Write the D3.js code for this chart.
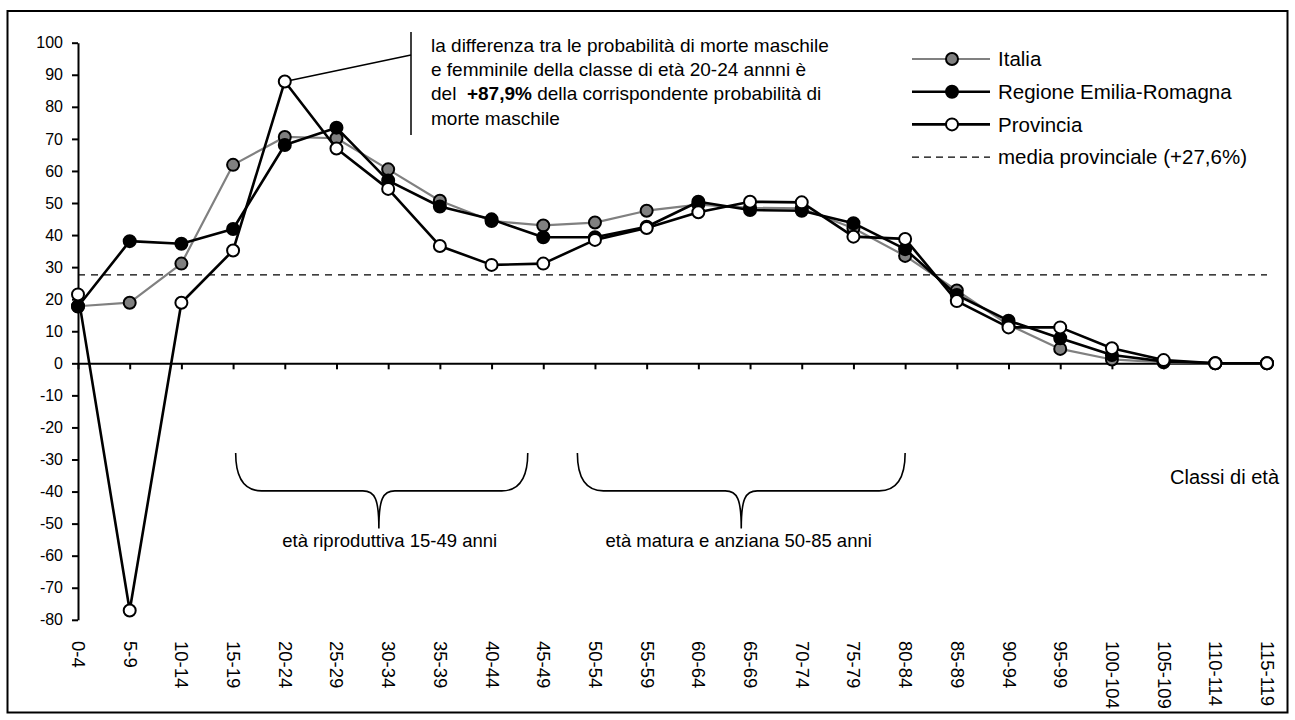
<!DOCTYPE html>
<html>
<head>
<meta charset="utf-8">
<script src="https://cdn.jsdelivr.net/npm/d3@7"></script>
<style>
  body { margin: 0; background: #fff; }
  svg { font-family: "Liberation Sans", Arial, sans-serif; }
  .axis path, .axis line { stroke: #000; stroke-width: 2; }
  .axis text { fill: #000; }
</style>
</head>
<body>
<svg width="1295" height="720"></svg>
<script>
// classi di età
var classi = ["0-4","5-9","10-14","15-19","20-24","25-29","30-34","35-39","40-44","45-49",
  "50-54","55-59","60-64","65-69","70-74","75-79","80-84","85-89","90-94","95-99",
  "100-104","105-109","110-114","115-119"];

var italia = [17.8, 18.9, 31.1, 61.9, 70.6, 70.2, 60.5, 50.7, 44.4, 43.0, 43.9, 47.6,
  49.5, 48.5, 48.3, 42.1, 33.5, 22.7, 12.0, 4.5, 1.2, 0.3, 0, 0];
var regione = [17.7, 38.1, 37.3, 41.9, 68.1, 73.5, 57.0, 48.9, 44.9, 39.3, 39.3, 42.6,
  50.4, 47.8, 47.6, 43.7, 35.6, 21.3, 13.3, 7.8, 2.6, 0.6, 0, 0];
var provincia = [21.5, -77.1, 18.9, 35.2, 87.9, 67.0, 54.4, 36.6, 30.7, 31.1, 38.5, 42.2,
  47.1, 50.4, 50.2, 39.5, 38.8, 19.4, 11.2, 11.2, 4.7, 1.0, 0, 0];

var mediaProvinciale = 27.6;
var yTicks = [-80,-70,-60,-50,-40,-30,-20,-10,0,10,20,30,40,50,60,70,80,90,100];

var serie = [
  {nome: "Italia", valori: italia, linea: "#808080", lw: 2.2, fill: "#808080"},
  {nome: "Regione Emilia-Romagna", valori: regione, linea: "#000", lw: 2.6, fill: "#000"},
  {nome: "Provincia", valori: provincia, linea: "#000", lw: 2.6, fill: "#fff"}
];

var svg = d3.select("svg");

// cornice esterna
svg.append("rect")
    .attr("x", 7.5).attr("y", 11)
    .attr("width", 1280).attr("height", 701.5)
    .attr("fill", "none").attr("stroke", "#000").attr("stroke-width", 2);

var x = d3.scalePoint().domain(classi).range([78, 1267]),
    y = d3.scaleLinear().domain([-80, 100]).range([619.8, 42.7]);
// posizione continua per le parentesi graffe
var xi = d3.scaleLinear().domain([0, classi.length - 1]).range([78, 1267]);

var g = svg.append("g");

// asse y
g.append("g")
    .attr("class", "axis")
    .attr("transform", "translate(78,0)")
    .call(d3.axisLeft(y).tickValues(yTicks).tickSize(6).tickPadding(9).tickSizeOuter(0)
      .tickFormat(function(d) { return String(d); }))
    .selectAll("text").style("font-size", "16px");

// asse x sullo zero
var ax = g.append("g")
    .attr("class", "axis")
    .attr("transform", "translate(0," + y(0) + ")")
    .call(d3.axisBottom(x).tickSize(6).tickSizeOuter(0));
ax.selectAll("text")
    .attr("x", 0).attr("y", 0).attr("dy", "0.35em")
    .attr("transform", "translate(0," + (641 - y(0)) + ") rotate(90)")
    .style("text-anchor", "start")
    .style("font-size", "18.5px");

// media provinciale
g.append("line")
    .attr("x1", x(classi[0])).attr("x2", x(classi[classi.length - 1]))
    .attr("y1", y(mediaProvinciale)).attr("y2", y(mediaProvinciale))
    .attr("stroke", "#000").attr("stroke-width", 1.3)
    .attr("stroke-dasharray", "7,6");

// linea di richiamo dell'annotazione
g.append("line")
    .attr("x1", x("20-24") + 5).attr("y1", y(87.9) - 1)
    .attr("x2", 411).attr("y2", 55)
    .attr("stroke", "#000").attr("stroke-width", 1.5);
g.append("line")
    .attr("x1", 411).attr("y1", 32).attr("x2", 411).attr("y2", 135)
    .attr("stroke", "#000").attr("stroke-width", 1.5);

var line = d3.line()
    .x(function(d, i) { return x(classi[i]); })
    .y(function(d) { return y(d); });

serie.forEach(function(s) {
  g.append("path")
      .datum(s.valori)
      .attr("d", line)
      .attr("fill", "none")
      .attr("stroke", s.linea)
      .attr("stroke-width", s.lw)
      .attr("stroke-linejoin", "round");
  g.selectAll(".pt-" + s.nome.length)
      .data(s.valori)
    .enter().append("circle")
      .attr("cx", function(d, i) { return x(classi[i]); })
      .attr("cy", function(d) { return y(d); })
      .attr("r", 6)
      .attr("fill", s.fill)
      .attr("stroke", "#000")
      .attr("stroke-width", 2);
});

// testo annotazione
var ann = svg.append("text")
    .style("font-size", "19px").style("white-space", "pre");
ann.append("tspan").attr("x", 431).attr("y", 52)
    .text("la differenza tra le probabilità di morte maschile");
ann.append("tspan").attr("x", 431).attr("y", 76.2)
    .text("e femminile della classe di età 20-24 annni è");
ann.append("tspan").attr("x", 431).attr("y", 100.4).text("del  ");
ann.append("tspan").attr("font-weight", "bold").text("+87,9%");
ann.append("tspan").text(" della corrispondente probabilità di");
ann.append("tspan").attr("x", 431).attr("y", 124.6).text("morte maschile");

// legenda
var leg = svg.append("g").attr("transform", "translate(912,59)");
serie.forEach(function(s, i) {
  var r = leg.append("g").attr("transform", "translate(0," + i * 32.7 + ")");
  r.append("line").attr("x1", 0).attr("x2", 78)
      .attr("stroke", s.linea).attr("stroke-width", s.lw);
  r.append("circle").attr("cx", 40).attr("r", 6)
      .attr("fill", s.fill).attr("stroke", "#000").attr("stroke-width", 2);
  r.append("text").attr("x", 86).attr("dy", "0.36em")
      .style("font-size", "20.5px").text(s.nome);
});
var rm = leg.append("g").attr("transform", "translate(0," + 3 * 32.7 + ")");
rm.append("line").attr("x1", 0).attr("x2", 78)
    .attr("stroke", "#000").attr("stroke-width", 1.3).attr("stroke-dasharray", "7,5");
rm.append("text").attr("x", 86).attr("dy", "0.36em")
    .style("font-size", "20.5px").text("media provinciale (+27,6%)");

// parentesi graffe
var graffe = [
  {da: 3.05, a: 8.7, punta: 5.82, testoX: 6.03, testo: "età riproduttiva 15-49 anni"},
  {da: 9.66, a: 16.0, punta: 12.83, testoX: 12.78, testo: "età matura e anziana 50-85 anni"}
];
var yTop = y(-28), yMid = y(-39.8), yTip = y(-51.5);
graffe.forEach(function(b) {
  var x0 = xi(b.da), x1 = xi(b.a), xc = xi(b.punta);
  var p = d3.path();
  p.moveTo(x0, yTop);
  p.bezierCurveTo(x0, yMid - 14, x0 + 8, yMid, x0 + 26, yMid);
  p.lineTo(xc - 16, yMid);
  p.bezierCurveTo(xc - 4, yMid, xc, yMid + 8, xc, yTip);
  p.moveTo(xc, yTip);
  p.bezierCurveTo(xc, yMid + 8, xc + 4, yMid, xc + 16, yMid);
  p.lineTo(x1 - 26, yMid);
  p.bezierCurveTo(x1 - 8, yMid, x1, yMid - 14, x1, yTop);
  g.append("path").attr("d", p.toString())
      .attr("fill", "none").attr("stroke", "#000").attr("stroke-width", 1.6);
  g.append("text")
      .attr("x", xi(b.testoX)).attr("y", y(-57.4))
      .attr("text-anchor", "middle")
      .style("font-size", "18.5px")
      .text(b.testo);
});

svg.append("text")
    .attr("x", 1279).attr("y", 484)
    .attr("text-anchor", "end")
    .style("font-size", "20px")
    .text("Classi di età");
</script>
</body>
</html>
